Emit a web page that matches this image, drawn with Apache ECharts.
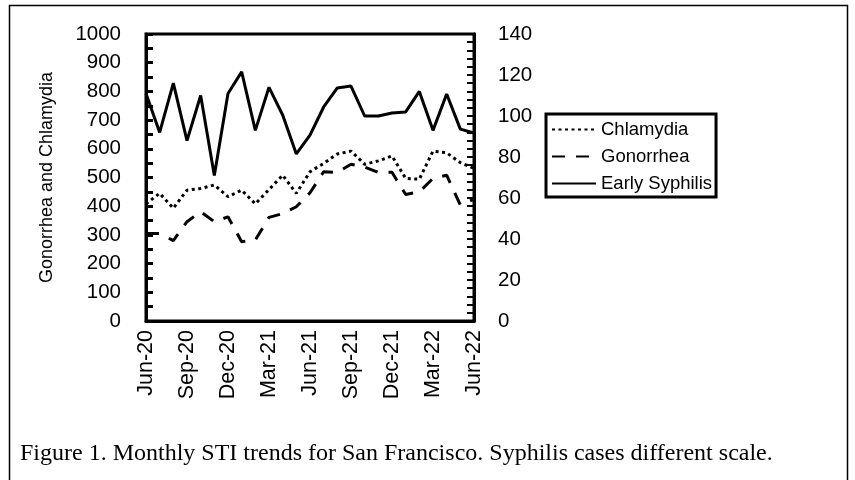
<!DOCTYPE html>
<html>
<head>
    <meta charset="utf-8">
    <title>Monthly STI trends for San Francisco</title>
    <script src="https://cdn.jsdelivr.net/npm/echarts@6/dist/echarts.min.js"></script>
    <style>
        html, body { margin: 0; padding: 0; background: #fff; }
        #main { width: 855px; height: 480px; }
    </style>
</head>
<body>
<div id="main"></div>
<script>
// months, Jun-20 .. Jun-22
const months = ['Jun-20','Jul-20','Aug-20','Sep-20','Oct-20','Nov-20','Dec-20','Jan-21','Feb-21',
    'Mar-21','Apr-21','May-21','Jun-21','Jul-21','Aug-21','Sep-21','Oct-21','Nov-21','Dec-21',
    'Jan-22','Feb-22','Mar-22','Apr-22','May-22','Jun-22'];

// left axis (cases)
const chlamydia = [408, 445, 393, 456, 462, 474, 433, 456, 408, 458, 508, 445, 520,
    549, 582, 592, 546, 558, 575, 497, 494, 592, 586, 552, 532];
const gonorrhea = [305, 305, 280, 346, 381, 346, 363, 276, 282, 361, 374, 398, 447,
    520, 518, 546, 536, 518, 518, 441, 450, 497, 508, 404, 424];
// right axis (cases, different scale)
const syphilis = [111, 92, 116, 88, 110, 71, 111, 121.5, 93, 114, 100.5, 81.5, 90.7,
    104.4, 113.7, 114.6, 100, 100, 101.5, 102, 112, 93, 110.7, 93.6, 91.7];

const leftTicks = { min: 0, max: 1000, step: 100 };
const rightTicks = { min: 0, max: 140, step: 20 };

const chart = echarts.init(document.getElementById('main'));
const font = 'Liberation Sans, Arial, sans-serif';

chart.setOption({
    animation: false,
    backgroundColor: '#fff',
    title: {
        text: 'Figure 1. Monthly STI trends for San Francisco. Syphilis cases different scale.',
        left: 15,
        top: 437,
        textStyle: { fontFamily: 'Liberation Serif, Times New Roman, serif', fontSize: 24, fontWeight: 'normal', color: '#000' }
    },
    graphic: [{
        type: 'rect',
        shape: { x: 9.5, y: 5.5, width: 838, height: 490 },
        style: { fill: null, stroke: '#000', lineWidth: 1.5 },
        silent: true
    }],
    legend: {
        orient: 'vertical',
        left: 546,
        top: 114,
        padding: [5, 4, 3, 5],
        borderColor: '#000',
        borderWidth: 3,
        itemWidth: 44,
        itemHeight: 14,
        itemGap: 6,
        itemStyle: { opacity: 0 },
        textStyle: { fontFamily: font, fontSize: 18.5, color: '#000', lineHeight: 21 },
        data: ['Chlamydia', 'Gonorrhea', 'Early Syphilis']
    },
    grid: {
        left: 146, right: 381, top: 34, bottom: 159,
        show: true, borderColor: '#000', borderWidth: 3
    },
    xAxis: {
        type: 'category',
        data: months,
        boundaryGap: false,
        axisLine: { lineStyle: { color: '#000', width: 3 } },
        axisTick: { show: false },
        axisLabel: {
            interval: 2, rotate: 90, margin: 9,
            fontFamily: font, fontSize: 21.5, color: '#000'
        },
        splitLine: { show: false }
    },
    yAxis: [{
        type: 'value',
        min: leftTicks.min, max: leftTicks.max, interval: leftTicks.step,
        name: 'Gonorrhea and Chlamydia',
        nameLocation: 'middle',
        nameGap: 90,
        nameRotate: 90,
        nameTextStyle: { fontFamily: font, fontSize: 18, color: '#000' },
        axisLine: { show: true, lineStyle: { color: '#000', width: 3 } },
        axisTick: { show: true, inside: true, length: 7, lineStyle: { color: '#000', width: 3 } },
        minorTick: { show: true, splitNumber: 2, length: 7, lineStyle: { color: '#000', width: 3 } },
        axisLabel: { margin: 25, fontFamily: font, fontSize: 20.5, color: '#000', formatter: v => String(v) },
        splitLine: { show: false }
    }, {
        type: 'value',
        position: 'right',
        min: rightTicks.min, max: rightTicks.max, interval: rightTicks.step,
        axisLine: { show: true, lineStyle: { color: '#000', width: 3 } },
        axisTick: { show: true, inside: true, length: 7, lineStyle: { color: '#000', width: 2 } },
        minorTick: { show: true, splitNumber: 5, length: 7, lineStyle: { color: '#000', width: 2 } },
        axisLabel: { margin: 24, fontFamily: font, fontSize: 20.5, color: '#000' },
        splitLine: { show: false }
    }],
    series: [{
        name: 'Chlamydia',
        type: 'line',
        data: chlamydia,
        yAxisIndex: 0,
        symbol: 'none',
        lineStyle: { color: '#000', width: 3, type: [3, 3.5] },
        itemStyle: { color: '#000' }
    }, {
        name: 'Gonorrhea',
        type: 'line',
        data: gonorrhea,
        yAxisIndex: 0,
        symbol: 'none',
        lineStyle: { color: '#000', width: 3, type: [13, 11] },
        itemStyle: { color: '#000' }
    }, {
        name: 'Early Syphilis',
        type: 'line',
        data: syphilis,
        yAxisIndex: 1,
        symbol: 'none',
        lineStyle: { color: '#000', width: 3 },
        itemStyle: { color: '#000' }
    }]
});
</script>
</body>
</html>
